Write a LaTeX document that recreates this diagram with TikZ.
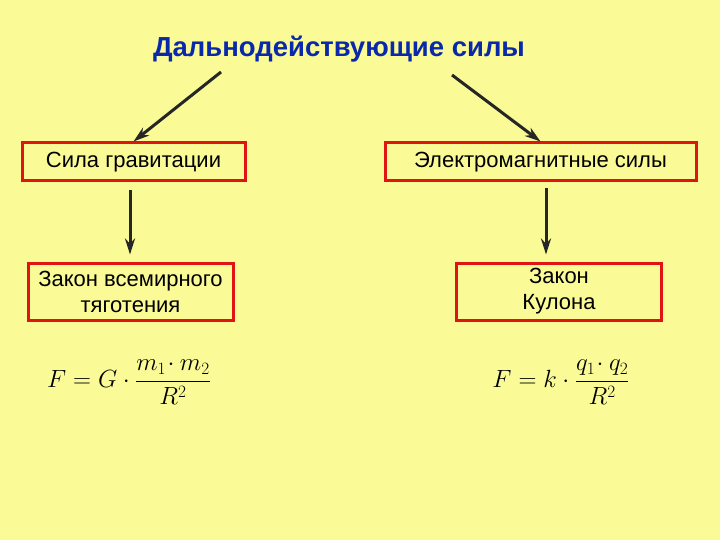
\documentclass[tikz,border=0pt]{standalone}
\usepackage{fontspec}
\setmainfont{Liberation Sans}
\usepackage{amsmath}
\usetikzlibrary{arrows.meta,positioning}
\definecolor{slideyellow}{RGB}{250,250,150}
\definecolor{titleblue}{RGB}{10,40,170}
\definecolor{boxred}{RGB}{225,20,20}

\begin{document}
\begin{tikzpicture}[x=1pt,y=-1pt,
  box/.style={draw=boxred,line width=3pt,minimum height=38pt,align=center,inner sep=2pt,font=\fontsize{22}{26}\selectfont},
  law/.style={box,minimum height=57pt,minimum width=205pt},
  arr/.style={-{Stealth[length=16pt,width=10pt]},line width=3pt,black!85}
]
  \fill[slideyellow] (0,0) rectangle (720,540);
  \useasboundingbox (0,0) rectangle (720,540);
  \node[font=\fontsize{27.5}{30}\selectfont\bfseries,text=titleblue] (title) at (339,49) {Дальнодействующие силы};
  \node[box,minimum width=223pt] (grav) at (133.5,162) {Сила гравитации};
  \node[box,minimum width=311pt] (em) at (540.5,162) {Электромагнитные силы};
  \node[law] (law1) at (130.5,291.5) {Закон всемирного\\тяготения};
  \node[law] (law2) at (559,291.5) {Закон\\Кулона};
  \coordinate (ta) at (221,72);
  \coordinate (tb) at (452,75);
  \draw[arr] (ta) -- (grav.north);
  \draw[arr] (tb) -- (em.north);
  \draw[arr,shorten <=8pt,shorten >=7pt] ([xshift=-3.5pt]grav.south) -- ([xshift=-3.5pt]grav.south |- law1.north);
  \draw[arr,shorten <=6pt,shorten >=7pt] ([xshift=5.5pt]em.south) -- ([xshift=5.5pt]em.south |- law2.north);
  \node[font=\fontsize{27}{30}\selectfont] (f1) at (129,382) {$F=G\cdot\dfrac{m_1\!\cdot m_2}{R^2}$};
  \node[font=\fontsize{27}{30}\selectfont] (f2) at (561,382) {$F=k\cdot\dfrac{q_1\!\cdot q_2}{R^2}$};
\end{tikzpicture}
\end{document}
